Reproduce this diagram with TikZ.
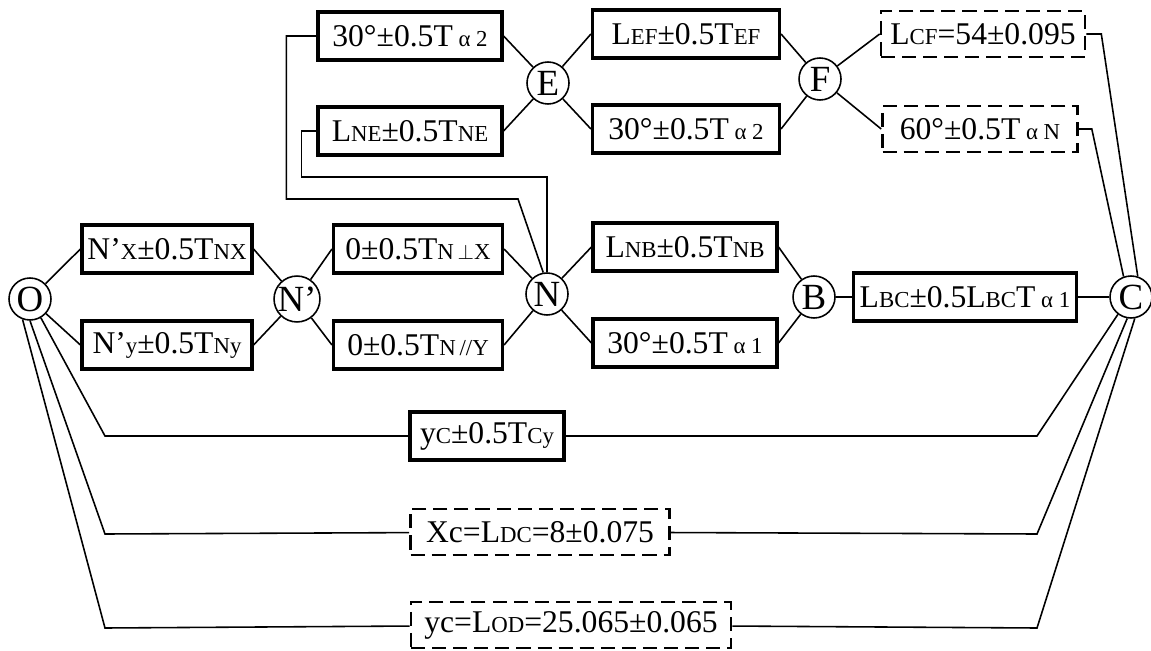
\documentclass[tikz,border=0pt]{standalone}
\usepackage{fontspec}
\setmainfont{Liberation Serif}
\usetikzlibrary{positioning}

\newcommand\sm[1]{{\fontsize{13}{13}\selectfont #1}}

\tikzset{
  joint/.style={draw, circle, line width=0.9pt, minimum size=0.84cm, inner sep=0pt,
                font=\fontsize{21}{21}\selectfont},
  tol/.style={draw, line width=1.8pt, minimum height=0.96cm, inner sep=2pt},
  tolopen/.style={tol, line width=1.5pt, minimum height=0.92cm, dash pattern=on 8pt off 4pt},
  link/.style={line width=0.9pt},
}

\begin{document}
\begin{tikzpicture}[x=0.02cm, y=-0.02cm, font=\fontsize{18}{20}\selectfont]
        \useasboundingbox (0,0) rectangle (1151,651);

        % Define the joints
        \foreach \n/\t/\x/\y in {O/O/30/299, Np/N’/297/299, N/N/547/294, B/B/814/297,
                                 C/C/1131/297, E/E/548/83, F/F/820/79}
            \node[joint] (\n) at (\x,\y) {\t};

        % Define the tolerance boxes
        \node[tol, minimum width=3.4cm] (nx) at (167,249) {N’\sm{X}±0.5T\sm{NX}};
        \node[tol, minimum width=3.4cm] (ny) at (167,345) {N’\sm{y}±0.5T\sm{Ny}};
        \node[tol, minimum width=3.38cm] (nperp) at (418,249) {0±0.5T\sm{N\,$\perp$X}};
        \node[tol, minimum width=3.38cm] (npar) at (418,345) {0±0.5T\sm{N\,//Y}};
        \node[tol, minimum width=3.68cm] (nb) at (685,247) {L\sm{NB}±0.5T\sm{NB}};
        \node[tol, minimum width=3.68cm] (na1) at (685,343) {30°±0.5T\sm{~α~1}};
        \node[tol, minimum width=4.46cm] (bc) at (965,297) {L\sm{BC}±0.5L\sm{BC}T\sm{~α~1}};
        \node[tol, minimum width=3.68cm] (ea2) at (410,36) {30°±0.5T\sm{~α~2}};
        \node[tol, minimum width=3.68cm] (ne) at (410,131) {L\sm{NE}±0.5T\sm{NE}};
        \node[tol, minimum width=3.74cm] (ef) at (686,34) {L\sm{EF}±0.5T\sm{EF}};
        \node[tol, minimum width=3.74cm] (fa2) at (686,129) {30°±0.5T\sm{~α~2}};
        \node[tolopen, minimum width=4.08cm] (cf) at (983,34) {L\sm{CF}=54±0.095};
        \node[tolopen, minimum width=3.9cm] (aN) at (980,129) {60°±0.5T\sm{~α~N}};
        \node[tol, minimum width=3.08cm] (ycy) at (487,436) {y\sm{C}±0.5T\sm{Cy}};
        \node[tolopen, minimum width=5.18cm] (xc) at (540,532) {Xc=L\sm{DC}=8±0.075};
        \node[tolopen, minimum width=6.4cm] (ycod) at (571,625) {yc=L\sm{OD}=25.065±0.065};

        % Define the bends of the long chains
        \foreach \b/\y in {1/436, 2/534, 3/628} {
            \coordinate (ol\b) at (105,\y);
            \coordinate (cl\b) at (1037,\y);
        }
        \coordinate (eturn) at (518,199);
        \coordinate (neturn) at (547,177);

        % Draw the lines
        \draw[link] (O) -- (nx.west);
        \draw[link] (O) -- (ny.west);
        \draw[link] (nx.east) -- (Np);
        \draw[link] (ny.east) -- (Np);
        \draw[link] (Np) -- (nperp.west);
        \draw[link] (Np) -- (npar.west);
        \draw[link] (nperp.east) -- (N);
        \draw[link] (npar.east) -- (N);
        \draw[link] (N) -- (nb.west);
        \draw[link] (N) -- (na1.west);
        \draw[link] (nb.east) -- (B);
        \draw[link] (na1.east) -- (B);
        \draw[link] (B) -- (bc) -- (C);

        \draw[link] (ea2.east) -- (E);
        \draw[link] (ne.east) -- (E);
        \draw[link] (E) -- (ef.west);
        \draw[link] (E) -- (fa2.west);
        \draw[link] (ef.east) -- (F);
        \draw[link] (fa2.east) -- (F);
        \draw[link] (F) -- (cf.west);
        \draw[link] (F) -- (aN.west);

        % back down to N
        \draw[link] (ea2.west) -- ++(-30,0) |- (eturn) -- (N.100);
        \draw[link] (ne.west) -- ++(-15,0) |- (neturn) -- (N.north);

        % into C from above
        \draw[link] (cf.east) -- ++(15,0) -- (C.72);
        \draw[link] (aN.east) -- ++(13,0) -- (C.110);

        % from O to C below
        \draw[link] (O.-60) -- (ol1) -- (ycy);
        \draw[link] (ycy) -- (cl1) -- (C.-127);
        \draw[link] (O.-90) -- (ol2) -- (xc);
        \draw[link] (xc) -- (cl2) -- (C.-100);
        \draw[link] (O.-110) -- (ol3) -- (ycod);
        \draw[link] (ycod) -- (cl3) -- (C.-80);
\end{tikzpicture}
\end{document}
